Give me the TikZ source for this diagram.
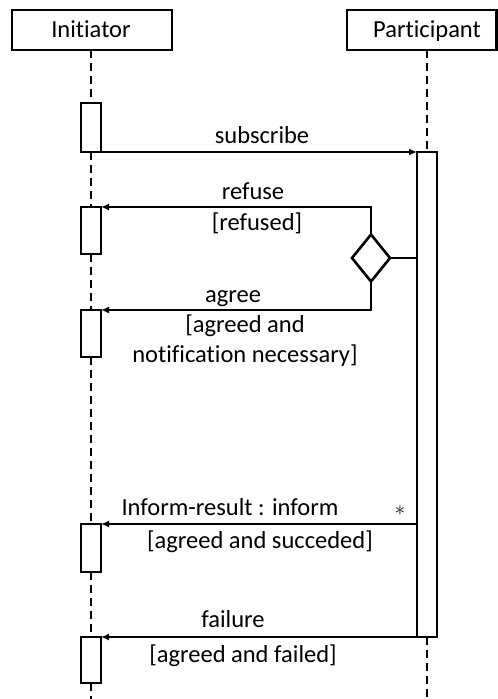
\documentclass[tikz,border=0pt]{standalone}
\usepackage{fontspec}
\setmainfont{Carlito}[Ligatures=NoCommon]
\usetikzlibrary{arrows.meta,shapes.geometric}

\begin{document}
\begin{tikzpicture}[x=1pt,y=-1pt,
  txt/.style={font=\fontsize{24.5}{30}\selectfont, inner sep=0pt, align=center, anchor=base},
  act/.style={draw, line width=2.6pt, rectangle, fill=white, minimum width=20pt, inner sep=0pt, outer sep=0pt},
  choice/.style={draw, line width=2.6pt, diamond, inner sep=0pt, outer sep=0pt, minimum width=38pt, minimum height=47pt},
  life/.style={line width=2.4pt, dash pattern=on 8pt off 5pt},
  msg/.style={line width=2.2pt, -{Latex[length=8pt,width=7pt]}},
  link/.style={line width=2pt}]
\useasboundingbox (0,0) rectangle (498,699);

% lifeline heads
\draw[line width=2.8pt] (12,10) rectangle (172,50);
\node[txt] (ini) at (91,37) {Initiator};
\draw[line width=2.8pt] (347,10) rectangle (496.6,50);
\node[txt] (par) at (427,37) {Participant};
\coordinate (iniS) at (91,50);
\coordinate (parS) at (427,50);
\coordinate (iniEnd) at (91,699);
\coordinate (parEnd) at (427,699);

% activation bars
\node[act, minimum height=49pt] (a1) at (91,127.5) {};
\node[act, minimum height=47pt] (a2) at (91,230.5) {};
\node[act, minimum height=47pt] (a3) at (91,333.5) {};
\node[act, minimum height=48pt] (a4) at (91,548) {};
\node[act, minimum height=46pt] (a5) at (91,660) {};
\node[act, minimum height=485pt] (p1) at (427,394.5) {};

% lifelines
\draw[life] (iniS) -- (a1.north);
\draw[life] (a1.south) -- (a2.north);
\draw[life] (a2.south) -- (a3.north);
\draw[life] (a3.south) -- (a4.north);
\draw[life] (a4.south) -- (a5.north);
\draw[life] (a5.south) -- (iniEnd);
\draw[life] (parS) -- (p1.north);
\draw[life] (p1.south) -- (parEnd);

% decision
\node[choice] (dec) at (371,258) {};
\draw[link] (dec.east) -- (p1.west |- dec.east);

% messages
\draw[msg] (a1.south east) -- (p1.north west);
\draw[msg] (dec.north) |- (a2.north east);
\draw[msg] (dec.south) |- (a3.north east);
\draw[msg] (p1.west |- a4.north east) -- (a4.north east);
\draw[msg] (p1.south west) -- (a5.north east);

% labels
\node[txt] (lsub) at (262,143) {subscribe};
\node[txt] (lref) at (253,199) {refuse};
\node[txt] (gref) at (257,230) {[refused]};
\node[txt] (lagr) at (233,302) {agree};
\node[txt] (gagr1) at (245,332) {[agreed and};
\node[txt] (gagr2) at (245,362) {notification necessary]};
\node[txt] (linf) at (230,515) {Inform-result : inform};
\node[inner sep=0pt, font=\fontsize{20}{20}\selectfont] (star) at (400,511) {$\ast$};
\node[txt] (ginf) at (260,548) {[agreed and succeded]};
\node[txt] (lfai) at (233,627) {failure};
\node[txt] (gfai) at (243,662) {[agreed and failed]};
\end{tikzpicture}
\end{document}
